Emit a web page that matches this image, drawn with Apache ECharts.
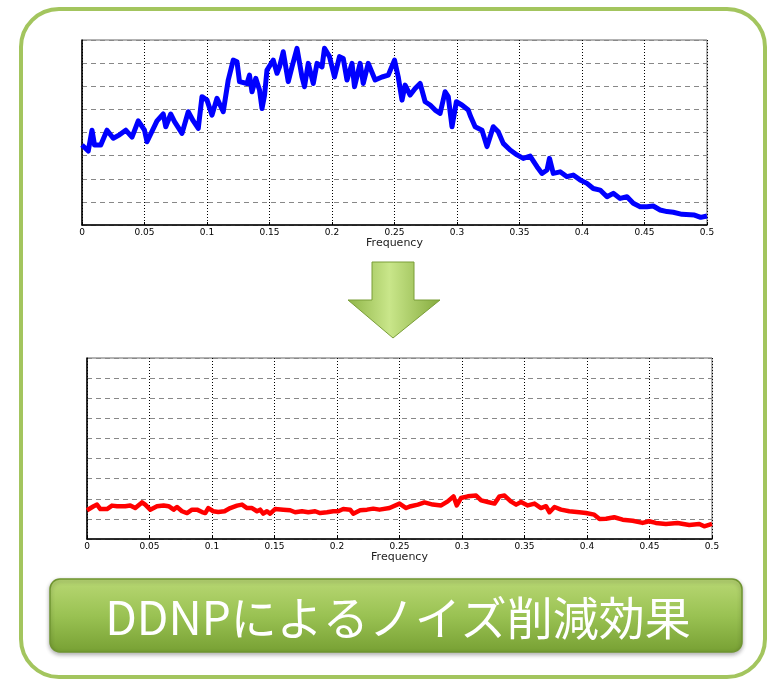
<!DOCTYPE html>
<html><head><meta charset="utf-8">
<script src="https://cdn.jsdelivr.net/npm/echarts@6/dist/echarts.min.js"></script>
<style>html,body{margin:0;padding:0;background:#fff}#c{width:777px;height:683px}</style>
</head><body><div id="c"></div>
<script>
// x ticks
const xTicks = [0,0.05,0.1,0.15,0.2,0.25,0.3,0.35,0.4,0.45,0.5];
// Top (before) spectrum — blue
const blueFreq = [0,0.005,0.008,0.010,0.015,0.020,0.025,0.030,0.035,0.040,0.045,0.050,0.052,0.060,0.065,0.067,0.071,0.074,0.080,0.085,0.089,0.093,0.096,0.100,0.104,0.108,0.113,0.117,0.121,0.124,0.126,0.132,0.134,0.136,0.139,0.142,0.144,0.146,0.148,0.153,0.156,0.158,0.161,0.165,0.168,0.172,0.176,0.178,0.181,0.185,0.188,0.192,0.194,0.198,0.202,0.206,0.209,0.212,0.216,0.218,0.2225,0.225,0.229,0.2345,0.240,0.245,0.250,0.253,0.256,0.2585,0.2625,0.2665,0.2705,0.2745,0.2785,0.2825,0.2865,0.2905,0.293,0.296,0.2995,0.3039,0.309,0.311,0.3145,0.320,0.324,0.3265,0.329,0.333,0.337,0.3425,0.348,0.353,0.3585,0.364,0.368,0.372,0.374,0.377,0.3825,0.388,0.393,0.3985,0.404,0.409,0.4145,0.420,0.425,0.4305,0.436,0.441,0.4465,0.452,0.457,0.4625,0.468,0.473,0.480,0.490,0.495,0.500];
const blueVals = [3.46,3.2,4.1,3.46,3.46,4.1,3.75,3.9,4.1,3.8,4.5,4.1,3.6,4.5,4.8,4.25,4.8,4.47,3.96,4.9,4.5,4.18,5.55,5.4,4.75,5.48,4.9,6.27,7.13,7.06,6.2,6.12,6.48,5.76,6.34,5.84,5.04,5.6,6.7,7.13,6.56,6.84,7.49,6.2,6.84,7.64,6.4,5.98,6.99,6.12,6.99,6.84,7.64,7.28,6.4,7.28,7.2,6.27,6.99,5.98,6.99,6.12,6.99,6.27,6.4,6.48,7.13,6.4,5.4,6.05,5.62,5.9,6.12,5.33,5.19,4.97,4.83,5.76,5.55,4.25,5.33,5.19,4.97,4.68,4.25,4.1,3.39,3.82,4.25,4.03,3.53,3.24,3.03,2.88,2.98,2.52,2.23,2.38,2.88,2.23,2.3,2.09,2.16,1.95,1.8,1.58,1.51,1.22,1.37,1.15,1.22,0.94,0.79,0.79,0.82,0.65,0.58,0.55,0.46,0.43,0.33,0.39];
// Bottom (after DDNP) spectrum — red
const redFreq = [0,0.0053,0.008,0.0107,0.016,0.020,0.024,0.0306,0.0346,0.0386,0.044,0.0466,0.0506,0.056,0.0613,0.0653,0.0693,0.072,0.076,0.080,0.084,0.088,0.092,0.0946,0.097,0.101,0.105,0.110,0.1146,0.120,0.124,0.128,0.132,0.136,0.1385,0.141,0.144,0.1465,0.1505,0.157,0.1625,0.1665,0.172,0.177,0.1825,0.1865,0.192,0.197,0.201,0.205,0.2105,0.213,0.2185,0.224,0.229,0.234,0.242,0.250,0.2553,0.259,0.2647,0.270,0.2766,0.2833,0.2886,0.2932,0.2958,0.2993,0.3046,0.3113,0.3153,0.3206,0.326,0.330,0.334,0.339,0.3433,0.3472,0.3526,0.358,0.3632,0.3672,0.370,0.374,0.3792,0.3858,0.3938,0.3992,0.4058,0.410,0.4152,0.4218,0.4285,0.4365,0.4445,0.4498,0.455,0.4631,0.4724,0.4818,0.4898,0.4938,0.500];
const redVals = [1.43,1.63,1.71,1.49,1.49,1.66,1.63,1.63,1.67,1.54,1.82,1.71,1.46,1.63,1.67,1.63,1.46,1.59,1.38,1.29,1.46,1.46,1.34,1.29,1.54,1.38,1.34,1.38,1.54,1.66,1.71,1.54,1.54,1.38,1.46,1.26,1.38,1.26,1.49,1.46,1.43,1.33,1.38,1.33,1.38,1.29,1.33,1.38,1.38,1.49,1.46,1.26,1.43,1.46,1.51,1.46,1.54,1.76,1.54,1.63,1.71,1.82,1.71,1.67,1.87,2.12,1.67,2.04,2.12,2.16,1.92,1.84,1.76,2.12,2.16,1.87,1.71,1.84,1.67,1.76,1.54,1.63,1.33,1.59,1.46,1.38,1.33,1.29,1.21,1.0,1.01,1.08,0.96,0.91,0.8,0.88,0.8,0.75,0.8,0.7,0.75,0.63,0.75];
const axisName = 'Frequency';
const titleText = 'DDNPによるノイズ削減効果';

function zip(a,b){return a.map((v,i)=>[v,b[i]]);}
function xAxisCfg(idx){
  return {gridIndex:idx,type:'value',min:0,max:0.5,interval:0.05,
    name:axisName,nameLocation:'middle',nameGap:12,
    nameTextStyle:{fontFamily:'DejaVu Sans',fontSize:11,color:'#222'},
    axisLine:{lineStyle:{color:'#000',width:1.5}},
    axisTick:{inside:true,length:3,lineStyle:{color:'#000'}},
    axisLabel:{fontFamily:'DejaVu Sans',fontSize:9,color:'#000',margin:3,
      formatter:v=>String(Math.round(v*100)/100)},
    splitLine:{show:true,lineStyle:{type:[1,2],color:'#000',width:1}}};
}
function yAxisCfg(idx,max){
  return {gridIndex:idx,type:'value',min:0,max:max,interval:1,
    axisLine:{show:true,lineStyle:{color:'#000',width:1.5}},
    axisTick:{show:false},axisLabel:{show:false},
    splitLine:{show:true,lineStyle:{type:[5,4],color:'#888',width:1}}};
}
const chart = echarts.init(document.getElementById('c'),null,{renderer:'canvas'});
chart.setOption({
  animation:false,
  backgroundColor:'#fff',
  grid:[
    {left:82,right:70,top:40,height:185,show:true,borderColor:'#666',borderWidth:1},
    {left:87,right:65,top:358,height:181,show:true,borderColor:'#666',borderWidth:1}
  ],
  xAxis:[xAxisCfg(0),xAxisCfg(1)],
  yAxis:[yAxisCfg(0,8),yAxisCfg(1,9)],
  series:[
    {type:'line',xAxisIndex:0,yAxisIndex:0,data:zip(blueFreq,blueVals),showSymbol:false,
      lineStyle:{color:'#0000ff',width:5,join:'round'},z:5},
    {type:'line',xAxisIndex:1,yAxisIndex:1,data:zip(redFreq,redVals),showSymbol:false,
      lineStyle:{color:'#ff0000',width:4.5,join:'round'},z:5}
  ],
  graphic:[
    {type:'rect',shape:{x:21,y:9,width:744,height:668,r:38},z:-10,
      style:{fill:'none',stroke:'#a3c55e',lineWidth:4}},
    {type:'polygon',z:10,shape:{points:[[372,262],[414,262],[414,300],[440,300],[393,338],[348,300],[372,300]]},
      style:{fill:new echarts.graphic.LinearGradient(0,0,1,0,[
        {offset:0,color:'#8fb548'},{offset:0.45,color:'#c9e68a'},{offset:1,color:'#85ab3e'}]),
        stroke:'#7a9e38',lineWidth:1}},
    {type:'rect',z:10,shape:{x:50,y:579,width:692,height:73,r:10},
      style:{fill:new echarts.graphic.LinearGradient(0,0,0,1,[
        {offset:0,color:'#b9d874'},{offset:0.5,color:'#9ac253'},{offset:1,color:'#77a033'}]),
        stroke:'#6f9530',lineWidth:1.5,shadowBlur:4,shadowColor:'rgba(0,0,0,0.3)',shadowOffsetY:2}},
    {type:'text',z:11,x:398,y:618,
      style:{text:titleText,fill:'#fff',font:'46px "Noto Sans CJK JP"',align:'center',verticalAlign:'middle'}}
  ]
});
</script></body></html>
